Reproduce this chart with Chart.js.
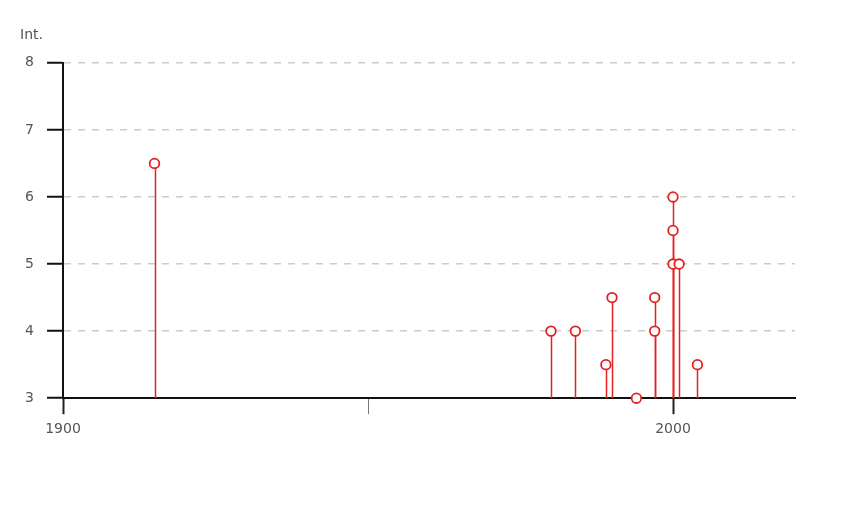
<!DOCTYPE html>
<html>
<head>
<meta charset="utf-8">
<script src="https://cdn.jsdelivr.net/npm/chart.js@4"></script>
<style>
  html, body { margin: 0; padding: 0; background: #fff; }
  #wrap { width: 855px; height: 509px; }
</style>
</head>
<body>
<div id="wrap"><canvas id="chart"></canvas></div>
<script>
const years = [1915, 1980, 1984, 1989, 1990, 1994, 1997, 1997, 2000, 2000, 2000, 2001, 2004];
const intensities = [6.5, 4, 4, 3.5, 4.5, 3, 4.5, 4, 6, 5.5, 5, 5, 3.5];
const xTicks = [1900, 1950, 2000];
const xLabels = ['1900', '', '2000'];
const yTicks = [3, 4, 5, 6, 7, 8];

const red = 'rgb(228, 32, 32)';
const font = { family: '"DejaVu Sans", Verdana, sans-serif', size: 14 };

// vertical stems from each point down to the baseline
const stems = {
    id: 'stems',
    beforeDatasetsDraw(chart) {
        const { ctx, scales: { x, y } } = chart;
        const base = y.getPixelForValue(y.min);
        ctx.save();
        ctx.strokeStyle = red;
        ctx.lineWidth = 1.5;
        years.forEach((yr, i) => {
            const px = Math.round(x.getPixelForValue(yr)) + 0.5;
            ctx.beginPath();
            ctx.moveTo(px, base);
            ctx.lineTo(px, y.getPixelForValue(intensities[i]));
            ctx.stroke();
        });
        ctx.restore();
    },
};

new Chart(document.getElementById('chart'), {
    type: 'scatter',
    data: {
        datasets: [{
            data: years.map((yr, i) => ({ x: yr, y: intensities[i] })),
            pointRadius: 4.8,
            pointBorderWidth: 1.8,
            pointBorderColor: red,
            pointBackgroundColor: '#fff',
            clip: false,
        }],
    },
    plugins: [stems],
    options: {
        responsive: true,
        maintainAspectRatio: false,
        animation: false,
        layout: { padding: { left: 20, right: 60, top: 0, bottom: 64 } },
        plugins: {
            legend: { display: false },
            tooltip: { enabled: false },
            title: {
                display: true,
                text: 'Int.',
                align: 'start',
                color: '#555',
                font: { family: font.family, size: 14, weight: 'normal' },
                padding: { top: 27, bottom: 19 },
            },
        },
        scales: {
            x: {
                type: 'linear',
                min: 1900,
                max: 2020,
                afterBuildTicks: (axis) => { axis.ticks = xTicks.map(v => ({ value: v })); },
                ticks: {
                    color: '#555',
                    font,
                    padding: 7,
                    maxRotation: 0,
                    callback: (v) => xLabels[xTicks.indexOf(v)],
                },
                grid: {
                    drawOnChartArea: false,
                    tickLength: 16,
                    tickColor: (c) => (c.tick && c.tick.value === 1950 ? '#777' : '#222'),
                    tickWidth: (c) => (c.tick && c.tick.value === 1950 ? 1 : 2),
                },
                border: { color: '#111', width: 2 },
            },
            y: {
                min: 3,
                max: 8,
                afterBuildTicks: (axis) => { axis.ticks = yTicks.map(v => ({ value: v })); },
                afterFit: (axis) => { axis.width = 43; },
                ticks: { color: '#555', font, padding: 13 },
                grid: {
                    color: (c) => (c.tick && c.tick.value === 3 ? 'rgba(0,0,0,0)' : '#cccccc'),
                    lineWidth: 1.5,
                    tickLength: 16,
                    tickColor: '#111',
                    tickWidth: 2,
                },
                border: { color: '#111', width: 2, dash: [7, 7] },
            },
        },
    },
});
</script>
</body>
</html>
